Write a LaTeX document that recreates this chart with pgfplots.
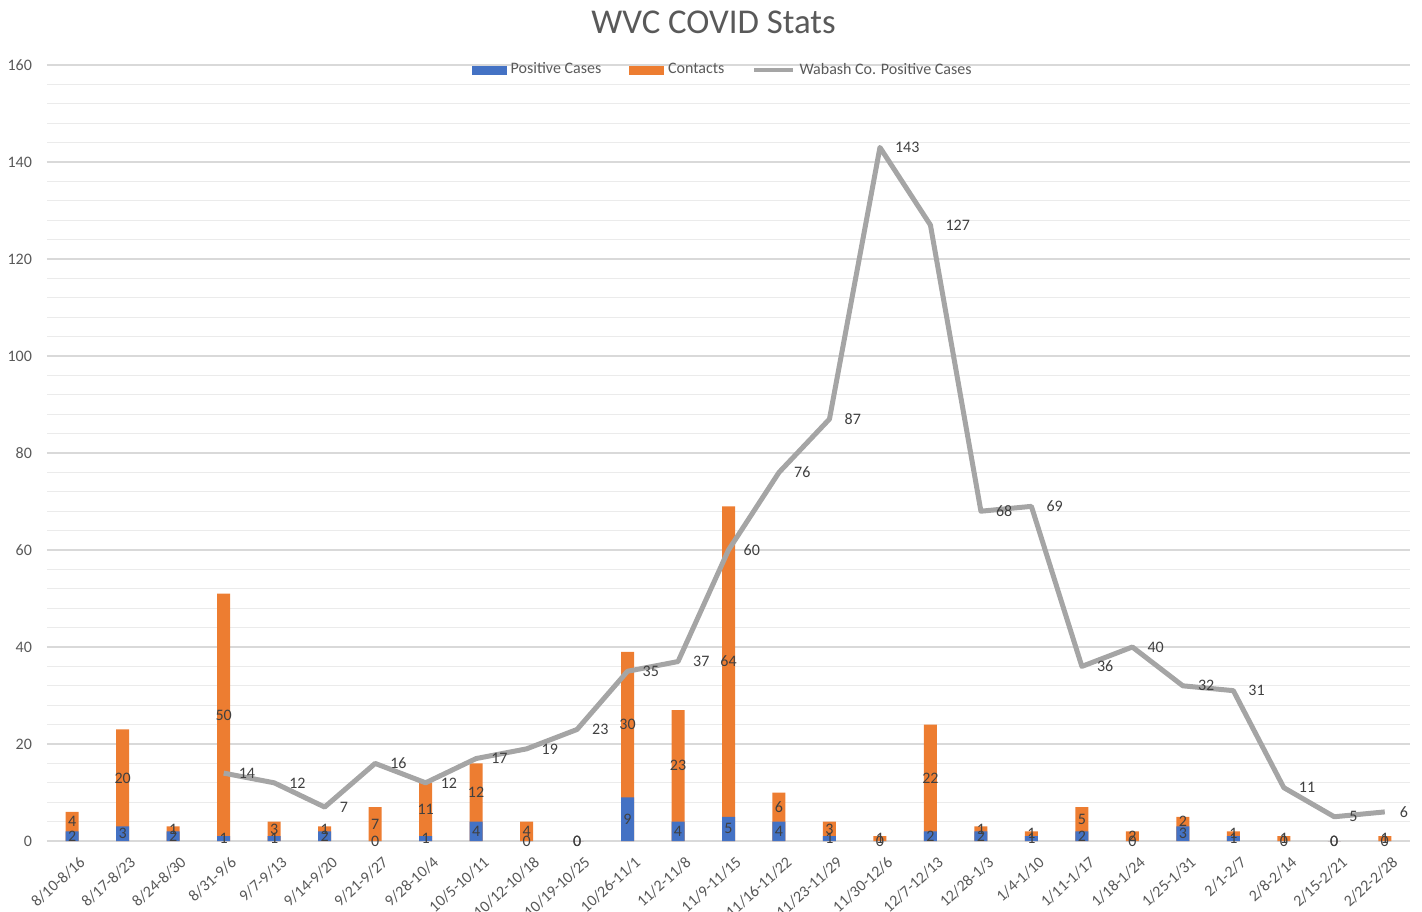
\documentclass[border=0pt]{standalone}
\usepackage{pgfplots}
\pgfplotsset{compat=1.18}
\usepackage{pgfplotstable}
\usepackage{fontspec}
\setmainfont{Carlito}
\definecolor{cblue}{HTML}{4472C4}
\definecolor{corange}{HTML}{ED7D31}
\definecolor{cgray}{HTML}{A5A5A5}
\definecolor{ctext}{HTML}{595959}
\definecolor{clab}{HTML}{404040}
\definecolor{cgrid}{HTML}{D9D9D9}
\definecolor{cminor}{HTML}{EBEBEB}

\pgfplotstableread{
x pos con
0 2 4
1 3 20
2 2 1
3 1 50
4 1 3
5 2 1
6 0 7
7 1 11
8 4 12
9 0 4
10 0 0
11 9 30
12 4 23
13 5 64
14 4 6
15 1 3
16 0 1
17 2 22
18 2 1
19 1 1
20 2 5
21 0 2
22 3 2
23 1 1
24 0 1
25 0 0
26 0 1
}\bars

\begin{document}
\begin{tikzpicture}
\begin{axis}[
  scale only axis, width=681.5pt, height=388pt,
  xmin=-0.5, xmax=26.5, ymin=0, ymax=160,
  axis line style={draw=none},
  ytick={0,20,...,160},
  minor ytick={4,8,12,16,24,28,32,36,44,48,52,56,64,68,72,76,84,88,92,96,104,108,112,116,124,128,132,136,144,148,152,156},
  ymajorgrids, yminorgrids,
  major grid style={cgrid, line width=0.6pt},
  minor grid style={cminor, line width=0.6pt},
  y tick style={draw=none},
  xtick={0,...,26},
  xticklabels={8/10-8/16,8/17-8/23,8/24-8/30,8/31-9/6,9/7-9/13,9/14-9/20,9/21-9/27,9/28-10/4,10/5-10/11,10/12-10/18,10/19-10/25,10/26-11/1,11/2-11/8,11/9-11/15,11/16-11/22,11/23-11/29,11/30-12/6,12/7-12/13,12/28-1/3,1/4-1/10,1/11-1/17,1/18-1/24,1/25-1/31,2/1-2/7,2/8-2/14,2/15-2/21,2/22-2/28},
  x tick style={draw=none},
  x tick label style={rotate=42, anchor=north east, font=\fontsize{8}{9}\selectfont, text=ctext, xshift=1pt, yshift=-4pt},
  y tick label style={font=\fontsize{8}{9}\selectfont, text=ctext, xshift=-4pt},
  /pgf/number format/assume math mode=true,
  extra x ticks={-0.5,0.5,...,26.5},
  extra x tick labels={},
  extra x tick style={grid=none, tick align=outside, major tick length=3pt, tick style={draw=cgrid, line width=0.6pt}},
  title={WVC COVID Stats},
  title style={at={(0.489,1)}, anchor=center, yshift=15.5pt, font=\fontsize{17.4}{20}\selectfont, text=ctext},
  legend style={at={(0.4965,0.9936)}, anchor=center, draw=none, fill=none, legend columns=3, font=\fontsize{8}{9}\selectfont, text=ctext,
    /tikz/every even column/.append style={column sep=12pt}},
  legend cell align=left,
]
\addlegendimage{legend image code/.code={\fill[cblue] (0pt,-2pt) rectangle (17pt,2pt);}}
\addlegendentry{Positive Cases}
\addlegendimage{legend image code/.code={\fill[corange] (0pt,-2pt) rectangle (17pt,2pt);}}
\addlegendentry{Contacts}
\addlegendimage{legend image code/.code={\draw[cgray, line width=2pt] (0pt,0pt) -- (19.5pt,0pt);}}
\addlegendentry{Wabash Co. Positive Cases}

\addplot[ybar, bar width=6.5pt, bar shift=0pt, fill=corange, draw=none, forget plot,
  nodes near coords, point meta=\thisrow{con},
  visualization depends on={\thisrow{con} \as \vcon},
  every node near coord/.append style={anchor=center, yshift={-1.2125pt*\vcon}, font=\fontsize{8}{9}\selectfont, text=clab, inner sep=0pt},
  nodes near coords={\pgfmathprintnumber[assume math mode=true]{\pgfplotspointmeta}}]
  table[x=x, y expr=\thisrow{pos}+\thisrow{con}] {\bars};
\addplot[ybar, bar width=6.5pt, bar shift=0pt, fill=cblue, draw=none, forget plot,
  nodes near coords, point meta=\thisrow{pos},
  visualization depends on={\thisrow{pos} \as \vpos},
  every node near coord/.append style={anchor=center, yshift={-1.2125pt*\vpos}, font=\fontsize{8}{9}\selectfont, text=clab, inner sep=0pt},
  nodes near coords={\pgfmathprintnumber[assume math mode=true]{\pgfplotspointmeta}}]
  table[x=x, y=pos] {\bars};
\addplot[cgray, line width=2.5pt, line join=round, mark=none, forget plot,
  nodes near coords,
  every node near coord/.append style={anchor=west, xshift=3pt, font=\fontsize{8}{9}\selectfont, text=clab},
  nodes near coords={\pgfmathprintnumber[assume math mode=true]{\pgfplotspointmeta}}]
  coordinates {(3,14) (4,12) (5,7) (6,16) (7,12) (8,17) (9,19) (10,23) (11,35) (12,37) (13,60) (14,76) (15,87) (16,143) (17,127) (18,68) (19,69) (20,36) (21,40) (22,32) (23,31) (24,11) (25,5) (26,6)};
\end{axis}
\pgfresetboundingbox
\useasboundingbox (-23.5pt,-35pt) rectangle (687.5pt,420.5pt);
\end{tikzpicture}
\end{document}
